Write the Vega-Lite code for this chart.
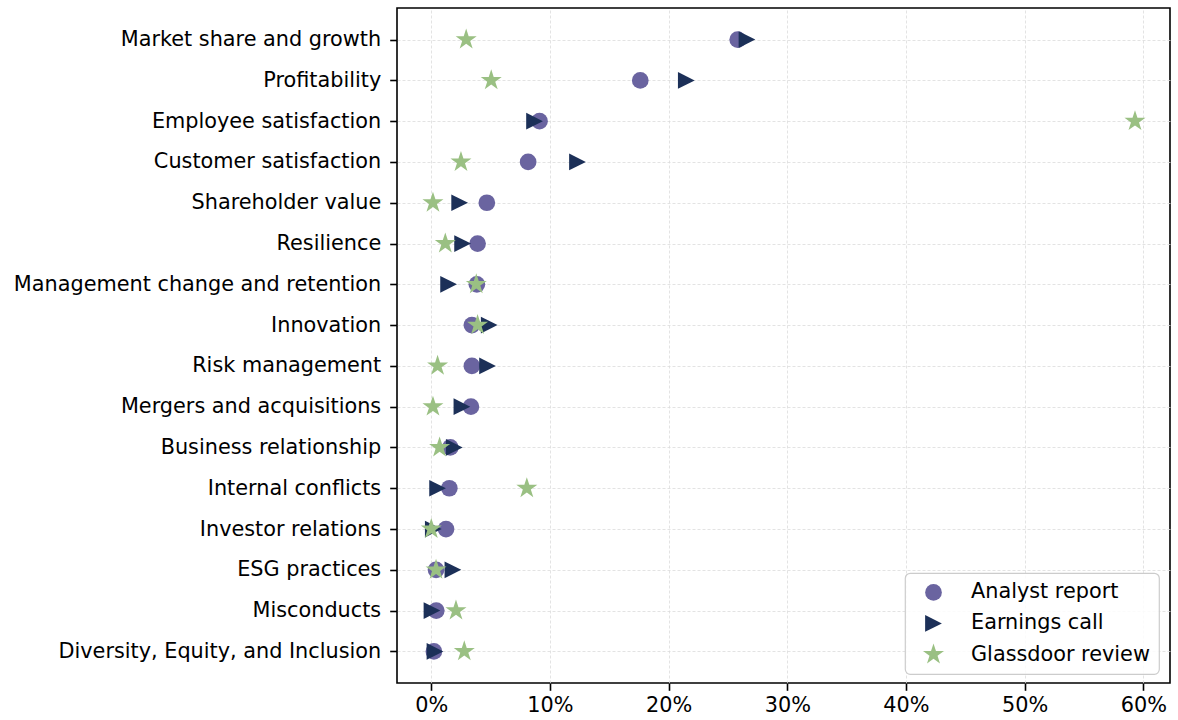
{
  "$schema": "https://vega.github.io/schema/vega-lite/v6.json",
  "width": 773,
  "height": 675,
  "autosize": {"type": "none"},
  "padding": {"left": 397, "top": 8, "right": 8, "bottom": 37},
  "background": "white",
  "config": {
    "font": "DejaVu Sans",
    "view": {"stroke": "black", "strokeWidth": 1.6},
    "axis": {
      "domain": false,
      "labelFont": "DejaVu Sans",
      "labelFontSize": 20.8,
      "labelColor": "black",
      "tickColor": "black",
      "tickSize": 7.3,
      "tickWidth": 1.6,
      "labelPadding": 6,
      "grid": true,
      "gridColor": "#dcdcdc",
      "gridWidth": 0.8,
      "gridDash": [3, 2],
      "title": null
    },
    "legend": {
      "labelFont": "DejaVu Sans",
      "labelFontSize": 20.8,
      "labelColor": "black",
      "labelLimit": 400,
      "strokeColor": "#cccccc",
      "strokeWidth": 1.2,
      "cornerRadius": 5,
      "fillColor": "rgba(255,255,255,0.85)",
      "padding": 9
    }
  },
  "data": {
    "values": [
      {"topic": "Market share and growth", "source": "Analyst report", "value": 0.2582},
      {"topic": "Market share and growth", "source": "Earnings call", "value": 0.266},
      {"topic": "Market share and growth", "source": "Glassdoor review", "value": 0.0294},
      {"topic": "Profitability", "source": "Analyst report", "value": 0.1761},
      {"topic": "Profitability", "source": "Earnings call", "value": 0.2149},
      {"topic": "Profitability", "source": "Glassdoor review", "value": 0.0505},
      {"topic": "Employee satisfaction", "source": "Analyst report", "value": 0.0912},
      {"topic": "Employee satisfaction", "source": "Earnings call", "value": 0.087},
      {"topic": "Employee satisfaction", "source": "Glassdoor review", "value": 0.593},
      {"topic": "Customer satisfaction", "source": "Analyst report", "value": 0.0816},
      {"topic": "Customer satisfaction", "source": "Earnings call", "value": 0.1232},
      {"topic": "Customer satisfaction", "source": "Glassdoor review", "value": 0.025},
      {"topic": "Shareholder value", "source": "Analyst report", "value": 0.0468},
      {"topic": "Shareholder value", "source": "Earnings call", "value": 0.0239},
      {"topic": "Shareholder value", "source": "Glassdoor review", "value": 0.0014},
      {"topic": "Resilience", "source": "Analyst report", "value": 0.039},
      {"topic": "Resilience", "source": "Earnings call", "value": 0.0264},
      {"topic": "Resilience", "source": "Glassdoor review", "value": 0.0118},
      {"topic": "Management change and retention", "source": "Analyst report", "value": 0.0384},
      {"topic": "Management change and retention", "source": "Earnings call", "value": 0.0146},
      {"topic": "Management change and retention", "source": "Glassdoor review", "value": 0.0379},
      {"topic": "Innovation", "source": "Analyst report", "value": 0.0342},
      {"topic": "Innovation", "source": "Earnings call", "value": 0.0488},
      {"topic": "Innovation", "source": "Glassdoor review", "value": 0.039},
      {"topic": "Risk management", "source": "Analyst report", "value": 0.0342},
      {"topic": "Risk management", "source": "Earnings call", "value": 0.0474},
      {"topic": "Risk management", "source": "Glassdoor review", "value": 0.0053},
      {"topic": "Mergers and acquisitions", "source": "Analyst report", "value": 0.0334},
      {"topic": "Mergers and acquisitions", "source": "Earnings call", "value": 0.0258},
      {"topic": "Mergers and acquisitions", "source": "Glassdoor review", "value": 0.0014},
      {"topic": "Business relationship", "source": "Analyst report", "value": 0.016},
      {"topic": "Business relationship", "source": "Earnings call", "value": 0.0194},
      {"topic": "Business relationship", "source": "Glassdoor review", "value": 0.007},
      {"topic": "Internal conflicts", "source": "Analyst report", "value": 0.0152},
      {"topic": "Internal conflicts", "source": "Earnings call", "value": 0.0053},
      {"topic": "Internal conflicts", "source": "Glassdoor review", "value": 0.0805},
      {"topic": "Investor relations", "source": "Analyst report", "value": 0.0124},
      {"topic": "Investor relations", "source": "Earnings call", "value": 0.0017},
      {"topic": "Investor relations", "source": "Glassdoor review", "value": 0.0},
      {"topic": "ESG practices", "source": "Analyst report", "value": 0.004},
      {"topic": "ESG practices", "source": "Earnings call", "value": 0.0182},
      {"topic": "ESG practices", "source": "Glassdoor review", "value": 0.004},
      {"topic": "Misconducts", "source": "Analyst report", "value": 0.0042},
      {"topic": "Misconducts", "source": "Earnings call", "value": 0.0006},
      {"topic": "Misconducts", "source": "Glassdoor review", "value": 0.0208},
      {"topic": "Diversity, Equity, and Inclusion", "source": "Analyst report", "value": 0.0022},
      {"topic": "Diversity, Equity, and Inclusion", "source": "Earnings call", "value": 0.0031},
      {"topic": "Diversity, Equity, and Inclusion", "source": "Glassdoor review", "value": 0.0278}
    ]
  },
  "mark": {"type": "point", "filled": true, "opacity": 1, "strokeWidth": 0},
  "encoding": {
    "y": {
      "field": "topic",
      "type": "nominal",
      "sort": null,
      "scale": {"type": "point", "padding": 0.775},
      "axis": {"labelLimit": 500, "labelPadding": 9}
    },
    "x": {
      "field": "value",
      "type": "quantitative",
      "scale": {"domain": [-0.0289, 0.6225], "nice": false, "zero": false},
      "axis": {"values": [0, 0.1, 0.2, 0.3, 0.4, 0.5, 0.6], "format": ".0%", "labelPadding": 5}
    },
    "color": {
      "field": "source",
      "type": "nominal",
      "scale": {"domain": ["Analyst report", "Earnings call", "Glassdoor review"], "range": ["#6a64a0", "#1c3058", "#9ac083"]},
      "legend": {
        "title": null,
        "orient": "none",
        "legendX": 508,
        "legendY": 565,
        "rowPadding": 9,
        "labelOffset": 26,
        "symbolOffset": 8,
        "symbolStrokeWidth": 0,
        "symbolOpacity": 1
      }
    },
    "shape": {
      "field": "source",
      "type": "nominal",
      "scale": {"domain": ["Analyst report", "Earnings call", "Glassdoor review"], "range": ["circle", "M-1,-1L1,0L-1,1Z", "M0,-1L0.2245,-0.309L0.9511,-0.309L0.3633,0.118L0.5878,0.809L0,0.382L-0.5878,0.809L-0.3633,0.118L-0.9511,-0.309L-0.2245,-0.309Z"]}
    },
    "size": {
      "field": "source",
      "type": "nominal",
      "scale": {"type": "ordinal", "domain": ["Analyst report", "Earnings call", "Glassdoor review"], "range": [279, 279, 488]}
    }
  }
}
